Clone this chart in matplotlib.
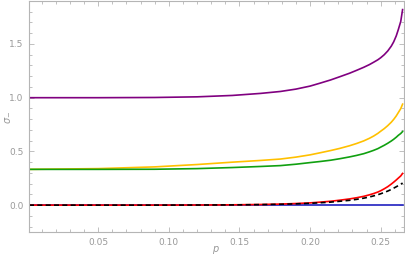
import matplotlib
matplotlib.use("Agg")
import matplotlib.pyplot as plt
from matplotlib.ticker import MultipleLocator

# values
p = [0.001, 0.05, 0.09, 0.12, 0.145, 0.165, 0.179, 0.19, 0.2, 0.207, 0.2145,
     0.221, 0.228, 0.233, 0.238, 0.242, 0.245, 0.248, 0.25, 0.2525, 0.255,
     0.2575, 0.2592, 0.261, 0.2625, 0.2642, 0.2655]
purple = [1.0, 1.0, 1.002, 1.008, 1.021, 1.04, 1.058, 1.08, 1.108, 1.135, 1.165,
          1.195, 1.228, 1.255, 1.283, 1.308, 1.33, 1.353, 1.372, 1.40, 1.435,
          1.48, 1.52, 1.575, 1.635, 1.71, 1.82]
yellow = [0.333, 0.340, 0.356, 0.378, 0.40, 0.416, 0.429, 0.447, 0.468, 0.487, 0.508,
          0.528, 0.553, 0.574, 0.598, 0.622, 0.643, 0.668, 0.688, 0.712, 0.74,
          0.772, 0.798, 0.83, 0.862, 0.898, 0.94]
green = [0.333, 0.333, 0.334, 0.340, 0.350, 0.36, 0.368, 0.381, 0.396, 0.406, 0.418,
         0.432, 0.449, 0.463, 0.479, 0.496, 0.51, 0.526, 0.54, 0.557, 0.576,
         0.597, 0.613, 0.632, 0.65, 0.667, 0.685]
red = [0, 0, 0, 0.001, 0.003, 0.006, 0.01, 0.015, 0.021, 0.028, 0.036,
       0.046, 0.058, 0.069, 0.082, 0.096, 0.108, 0.122, 0.134, 0.152, 0.172,
       0.196, 0.214, 0.234, 0.252, 0.272, 0.295]
black = [0, 0, 0, 0.001, 0.002, 0.005, 0.008, 0.012, 0.017, 0.022, 0.028,
         0.036, 0.045, 0.054, 0.065, 0.076, 0.086, 0.097, 0.106, 0.118, 0.131,
         0.146, 0.158, 0.171, 0.182, 0.194, 0.206]
blue = [0.0] * len(p)

fig = plt.figure(figsize=(4.05, 2.61), dpi=100)
ax = fig.add_axes([29 / 405, 29 / 261, 375 / 405, 231 / 261])

lw = 1.2
ax.plot(p, purple, color='#800080', lw=lw)
ax.plot(p, yellow, color='#FFC000', lw=lw)
ax.plot(p, green, color='#10A010', lw=lw)
ax.plot(p, blue, color='#2020C0', lw=lw)
ax.plot(p, red, color='#FF0000', lw=lw)
ax.plot(p, black, color='black', lw=1.2, ls=(0, (3, 2)))

ax.set_xlim(0.001, 0.2665)
ax.set_ylim(-0.25, 1.9)

gray = '#999999'
for s in ax.spines.values():
    s.set_color('#b5b5b5')
    s.set_linewidth(0.8)

ax.xaxis.set_major_locator(MultipleLocator(0.05))
ax.xaxis.set_minor_locator(MultipleLocator(0.01))
ax.yaxis.set_major_locator(MultipleLocator(0.5))
ax.yaxis.set_minor_locator(MultipleLocator(0.1))
ax.xaxis.set_major_formatter(plt.FuncFormatter(lambda v, _: f"{v:.2f}"))
ax.yaxis.set_major_formatter(plt.FuncFormatter(lambda v, _: f"{v:.1f}"))
ax.tick_params(which='both', direction='in', top=True, right=True,
               color='#b5b5b5', labelcolor=gray, labelsize=6.5, width=0.6)
ax.tick_params(which='major', length=3.5, pad=4)
ax.tick_params(which='minor', length=2)

# axis labels placed as figure text so they stay inside the small canvas
fig.text(216 / 405, 1 - 250 / 261, '$p$', color=gray, fontsize=7,
         ha='center', va='center')
fig.text(7 / 405, 1 - 117 / 261, r'$\sigma_{-}$', color=gray, fontsize=7,
         ha='center', va='center', rotation=90)

fig.savefig('out.png', dpi=100)
